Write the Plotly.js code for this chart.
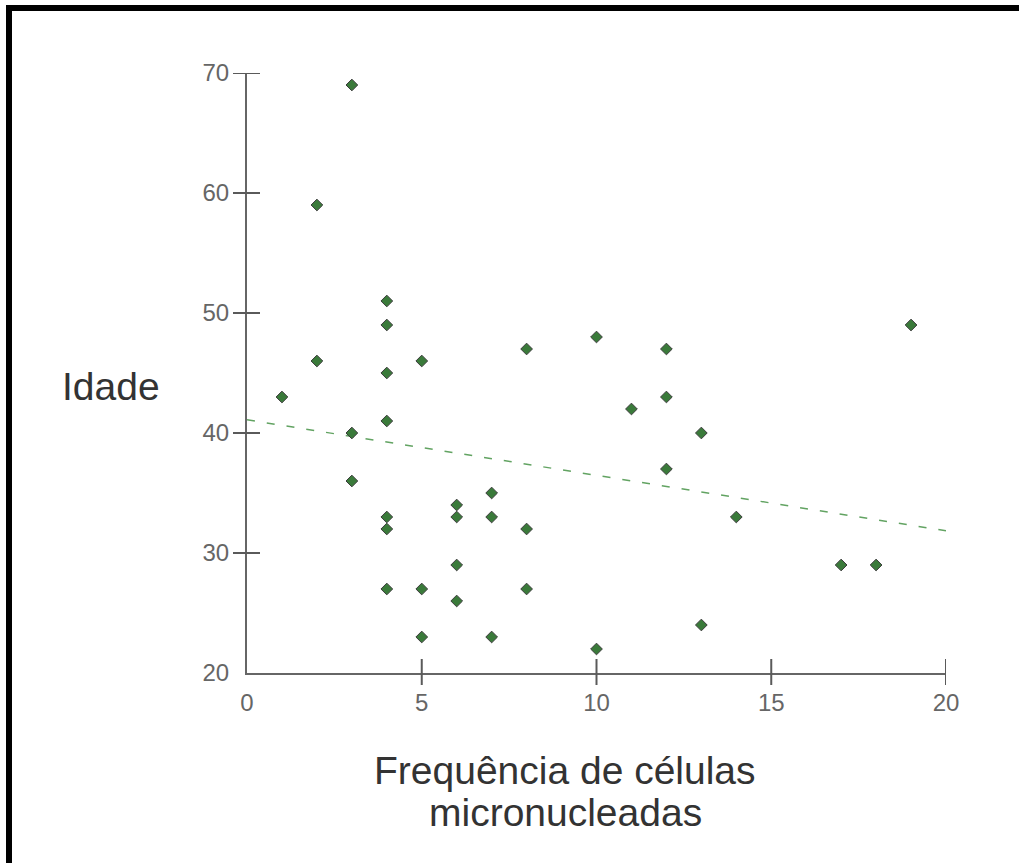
<!DOCTYPE html>
<html><head><meta charset="utf-8">
<script src="https://cdn.plot.ly/plotly-3.0.1.min.js"></script>
<style>
html,body{margin:0;padding:0;background:#fff;}
#wrap{position:relative;width:1019px;height:863px;overflow:hidden;}
#chart{position:absolute;left:0;top:0;width:1019px;height:863px;}
.bt{position:absolute;left:6px;top:5px;width:1013px;height:6px;background:#000;}
.bl{position:absolute;left:6px;top:5px;width:6px;height:858px;background:#000;}
</style></head><body>
<div id="wrap"><div id="chart"></div><div class="bt"></div><div class="bl"></div></div>
<script>
const freq  = [1,2,2,3,3,3,4,4,4,4,4,4,4,5,5,5,6,6,6,6,7,7,7,8,8,8,10,10,11,12,12,12,13,13,14,17,18,19];
const idade = [43,59,46,69,40,36,51,49,45,41,33,32,27,46,27,23,34,33,29,26,35,33,23,47,32,27,48,22,42,47,43,37,40,24,33,29,29,49];
const xTickVals = [0,5,10,15,20];
const yTickVals = [20,30,40,50,60,70];
const xTitleLines = ['Frequência de células', 'micronucleadas'];
const yTitle = 'Idade';

// linear regression from the data
const n = freq.length;
const mx = freq.reduce((a,b)=>a+b,0)/n;
const my = idade.reduce((a,b)=>a+b,0)/n;
let sxy=0, sxx=0;
for(let i=0;i<n;i++){sxy+=(freq[i]-mx)*(idade[i]-my); sxx+=(freq[i]-mx)**2;}
const slope = sxy/sxx, intercept = my - slope*mx;
const lineX = [xTickVals[0], xTickVals[xTickVals.length-1]];
const lineY = lineX.map(x=>intercept+slope*x);

const font = 'Liberation Sans, Arial, sans-serif';
const tickColor = '#5a5a5a';
const traces = [
  {x:lineX, y:lineY, mode:'lines', type:'scatter', hoverinfo:'skip',
   line:{color:'#62a362', width:1.5, dash:'8px,12px'}},
  {x:freq, y:idade, mode:'markers', type:'scatter',
   marker:{symbol:'diamond', size:9, color:'#3a7a3a', line:{color:'#3c3c3c', width:1}}}
];
const xr=[0,20], yr=[20,70];
// crossing tick marks (skip the corner ticks); one paper ref keeps them unclipped
const shapes = [];
xTickVals.slice(1).forEach(v=>shapes.push({type:'line', xref:'x', yref:'paper', ysizemode:'pixel', yanchor:0,
  x0:v, x1:v, y0:-12, y1:14, line:{color:tickColor, width:2}}));
yTickVals.slice(1).forEach(v=>shapes.push({type:'line', xref:'paper', yref:'y', xsizemode:'pixel', xanchor:0,
  y0:v, y1:v, x0:-14, x1:13, line:{color:tickColor, width:2}}));

const base = {showgrid:false, zeroline:false, fixedrange:true};
const layout = {
  width:1019, height:863, showlegend:false,
  paper_bgcolor:'#fff', plot_bgcolor:'#fff',
  margin:{l:247, r:73, t:73, b:190},
  xaxis:Object.assign({}, base, {range:xr, tickvals:xTickVals, ticktext:xTickVals.map(String),
    ticks:'outside', ticklen:7, tickcolor:'rgba(0,0,0,0)',
    showline:true, linecolor:'#666', linewidth:2,
    tickfont:{family:font, size:24, color:'#666'}}),
  yaxis:Object.assign({}, base, {range:yr, tickvals:yTickVals, ticktext:yTickVals.map(String),
    ticks:'outside', ticklen:11, tickcolor:'rgba(0,0,0,0)',
    showline:true, linecolor:'#666', linewidth:2,
    tickfont:{family:font, size:24, color:'#666'}}),
  shapes: shapes,
  annotations:[
    {text:yTitle, xref:'paper', yref:'paper', x:-0.194, y:0.478, xanchor:'center', yanchor:'middle',
     showarrow:false, font:{family:font, size:39, color:'#333'}},
    {text:xTitleLines[0], xref:'paper', yref:'paper', x:0.455, y:-0.1617, xanchor:'center', yanchor:'middle',
     showarrow:false, font:{family:font, size:39, color:'#333'}},
    {text:xTitleLines[1], xref:'paper', yref:'paper', x:0.455, y:-0.2333, xanchor:'center', yanchor:'middle',
     showarrow:false, font:{family:font, size:39, color:'#333'}}
  ]
};
Plotly.newPlot('chart', traces, layout, {displayModeBar:false, staticPlot:true});
</script>
</body></html>
